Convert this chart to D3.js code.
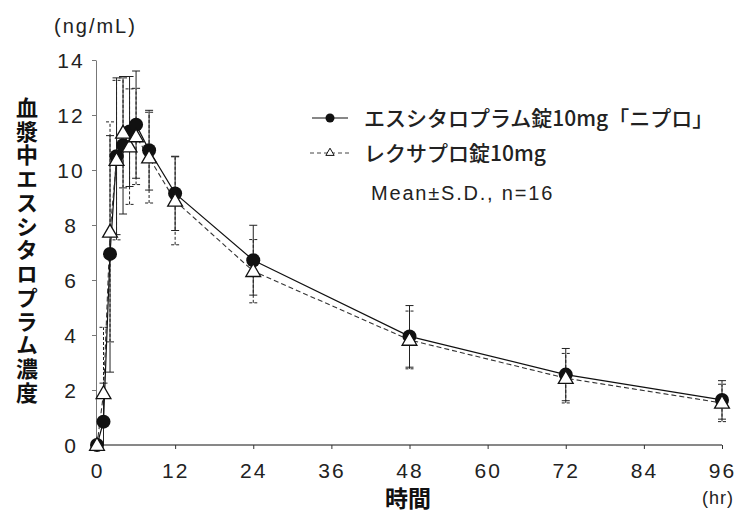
<!DOCTYPE html>
<html>
<head>
<meta charset="utf-8">
<script src="https://cdn.jsdelivr.net/npm/d3@7/dist/d3.min.js"></script>
<style>
  body { margin: 0; background: #fff; }
  svg { display: block; }
</style>
</head>
<body>
<div id="chart"></div>
<script>
// sampling times (hr) and mean / SD plasma levels (ng/mL)
var times = [0, 1, 2, 3, 4, 5, 6, 8, 12, 24, 48, 72, 96];
var niproMean = [0, 0.85, 6.95, 10.5, 10.9, 11.4, 11.65, 10.72, 9.15, 6.72, 3.95, 2.56, 1.64];
var niproSD = [0, 1.4, 4.3, 2.85, 2.5, 2.0, 1.95, 1.45, 1.35, 1.27, 1.12, 0.95, 0.7];
var lexaMean = [0, 1.88, 7.75, 10.36, 11.35, 10.85, 11.22, 10.45, 8.88, 6.32, 3.82, 2.43, 1.53];
var lexaSD = [0, 2.4, 4.0, 2.9, 2.0, 2.1, 1.75, 1.65, 1.6, 1.15, 1.05, 0.9, 0.68];

var xTicks = [0, 12, 24, 36, 48, 60, 72, 84, 96];
var yTicks = [0, 2, 4, 6, 8, 10, 12, 14];
var seriesNames = ["エスシタロプラム錠10mg「ニプロ」", "レクサプロ錠10mg"];
var yTitle = "血漿中エスシタロプラム濃度";
var xTitle = "時間";

var width = 738, height = 513;
var latin = "'Liberation Sans', Arial, sans-serif";
var jp = "'Noto Sans CJK JP', sans-serif";

var svg = d3.select("#chart").append("svg")
  .attr("width", width)
  .attr("height", height);

var x = d3.scaleLinear().domain([0, 96]).range([97, 722]);
var y = d3.scaleLinear().domain([0, 14]).range([445, 60]);

// y axis (gray, ticks to the left, centred labels)
var yAxis = svg.append("g")
  .attr("transform", "translate(96,0)")
  .call(d3.axisLeft(y).tickValues(yTicks).tickSize(4).tickSizeOuter(0));
yAxis.select(".domain").attr("stroke", "#777");
yAxis.selectAll(".tick line").attr("stroke", "#777");
yAxis.selectAll(".tick text")
  .attr("x", -25)
  .attr("dy", "0.36em")
  .attr("text-anchor", "middle")
  .style("font-family", latin)
  .style("font-size", "21px")
  .style("letter-spacing", "2px")
  .attr("fill", "#222");

// x axis
var xAxis = svg.append("g")
  .attr("transform", "translate(0,445)")
  .call(d3.axisBottom(x).tickValues(xTicks).tickSize(4).tickSizeOuter(0));
xAxis.select(".domain").attr("stroke", "#111").attr("d", "M96,0H722");
xAxis.selectAll(".tick line").attr("stroke", "#333");
xAxis.selectAll(".tick text")
  .attr("y", 33)
  .attr("dy", 0)
  .style("font-family", latin)
  .style("font-size", "21px")
  .style("letter-spacing", "2px")
  .attr("fill", "#222");

// unit labels
svg.append("text")
  .attr("x", 54).attr("y", 33)
  .style("font-family", latin)
  .style("font-size", "20px")
  .style("letter-spacing", "2px")
  .attr("fill", "#222")
  .text("(ng/mL)");

svg.append("text")
  .attr("x", 702).attr("y", 504)
  .style("font-family", latin)
  .style("font-size", "18px")
  .style("letter-spacing", "1px")
  .attr("fill", "#222")
  .text("(hr)");

// axis titles
svg.append("text")
  .attr("x", 408).attr("y", 507)
  .attr("text-anchor", "middle")
  .style("font-family", jp)
  .style("font-size", "23px")
  .style("font-weight", "bold")
  .attr("fill", "#111")
  .text(xTitle);

// vertical y title, written top to bottom
svg.append("text")
  .attr("x", 27)
  .attr("y", 251)
  .attr("text-anchor", "middle")
  .style("writing-mode", "vertical-rl")
  .style("font-family", jp)
  .style("font-size", "22px")
  .style("font-weight", "bold")
  .style("letter-spacing", "1.75px")
  .attr("fill", "#111")
  .text(yTitle);

// data rows
var nipro = times.map(function(t, i) { return {t: t, m: niproMean[i], sd: niproSD[i]}; });
var lexa = times.map(function(t, i) { return {t: t, m: lexaMean[i], sd: lexaSD[i]}; });

var errorBars = function(data, dash) {
  var g = svg.append("g")
    .attr("stroke", "#222")
    .attr("stroke-width", 1)
    .attr("stroke-dasharray", dash);
  var rows = data.filter(function(d) { return d.sd > 0; });
  g.selectAll("line.v").data(rows).enter().append("line")
    .attr("class", "v")
    .attr("x1", function(d) { return x(d.t); })
    .attr("x2", function(d) { return x(d.t); })
    .attr("y1", function(d) { return y(Math.max(0, d.m - d.sd)); })
    .attr("y2", function(d) { return y(d.m + d.sd); });
  g.selectAll("line.top").data(rows).enter().append("line")
    .attr("class", "top")
    .attr("stroke-dasharray", null)
    .attr("x1", function(d) { return x(d.t) - 4; })
    .attr("x2", function(d) { return x(d.t) + 4; })
    .attr("y1", function(d) { return y(d.m + d.sd); })
    .attr("y2", function(d) { return y(d.m + d.sd); });
  g.selectAll("line.bot").data(rows.filter(function(d) { return d.m - d.sd > 0; })).enter().append("line")
    .attr("class", "bot")
    .attr("stroke-dasharray", null)
    .attr("x1", function(d) { return x(d.t) - 4; })
    .attr("x2", function(d) { return x(d.t) + 4; })
    .attr("y1", function(d) { return y(d.m - d.sd); })
    .attr("y2", function(d) { return y(d.m - d.sd); });
};

errorBars(nipro, null);
errorBars(lexa, "3,2");

var line = d3.line()
  .x(function(d) { return x(d.t); })
  .y(function(d) { return y(d.m); });

svg.append("path")
  .datum(nipro)
  .attr("d", line)
  .attr("fill", "none")
  .attr("stroke", "#111")
  .attr("stroke-width", 1.2);

svg.append("path")
  .datum(lexa)
  .attr("d", line)
  .attr("fill", "none")
  .attr("stroke", "#333")
  .attr("stroke-width", 1.1)
  .attr("stroke-dasharray", "5,3");

var tri = d3.symbol().type(d3.symbolTriangle).size(95);

svg.append("g").selectAll("circle")
  .data(nipro)
  .enter().append("circle")
  .attr("cx", function(d) { return x(d.t); })
  .attr("cy", function(d) { return y(d.m); })
  .attr("r", 7)
  .attr("fill", "#111");

svg.append("g").selectAll("path")
  .data(lexa)
  .enter().append("path")
  .attr("d", tri)
  .attr("transform", function(d) { return "translate(" + x(d.t) + "," + (y(d.m) + 1) + ")"; })
  .attr("fill", "#fff")
  .attr("stroke", "#111")
  .attr("stroke-width", 1.3);

// legend
var legend = svg.append("g");
legend.append("line")
  .attr("x1", 312).attr("x2", 348).attr("y1", 118).attr("y2", 118)
  .attr("stroke", "#111").attr("stroke-width", 1.2);
legend.append("circle")
  .attr("cx", 330).attr("cy", 118).attr("r", 4.5).attr("fill", "#111");
legend.append("line")
  .attr("x1", 310).attr("x2", 350).attr("y1", 153).attr("y2", 153)
  .attr("stroke", "#444").attr("stroke-width", 1).attr("stroke-dasharray", "4,3");
legend.append("path")
  .attr("d", d3.symbol().type(d3.symbolTriangle).size(30))
  .attr("transform", "translate(330,153)")
  .attr("fill", "#fff").attr("stroke", "#111").attr("stroke-width", 1);

legend.selectAll("text.name")
  .data(seriesNames)
  .enter().append("text")
  .attr("class", "name")
  .attr("x", 364)
  .attr("y", function(d, i) { return 126 + i * 35; })
  .style("font-family", jp)
  .style("font-size", "21px")
  .style("font-weight", "500")
  .attr("fill", "#222")
  .text(function(d) { return d; });

legend.append("text")
  .attr("x", 371).attr("y", 200)
  .style("font-family", latin)
  .style("font-size", "20px")
  .style("letter-spacing", "1.8px")
  .attr("fill", "#222")
  .text("Mean±S.D., n=16");
</script>
</body>
</html>
